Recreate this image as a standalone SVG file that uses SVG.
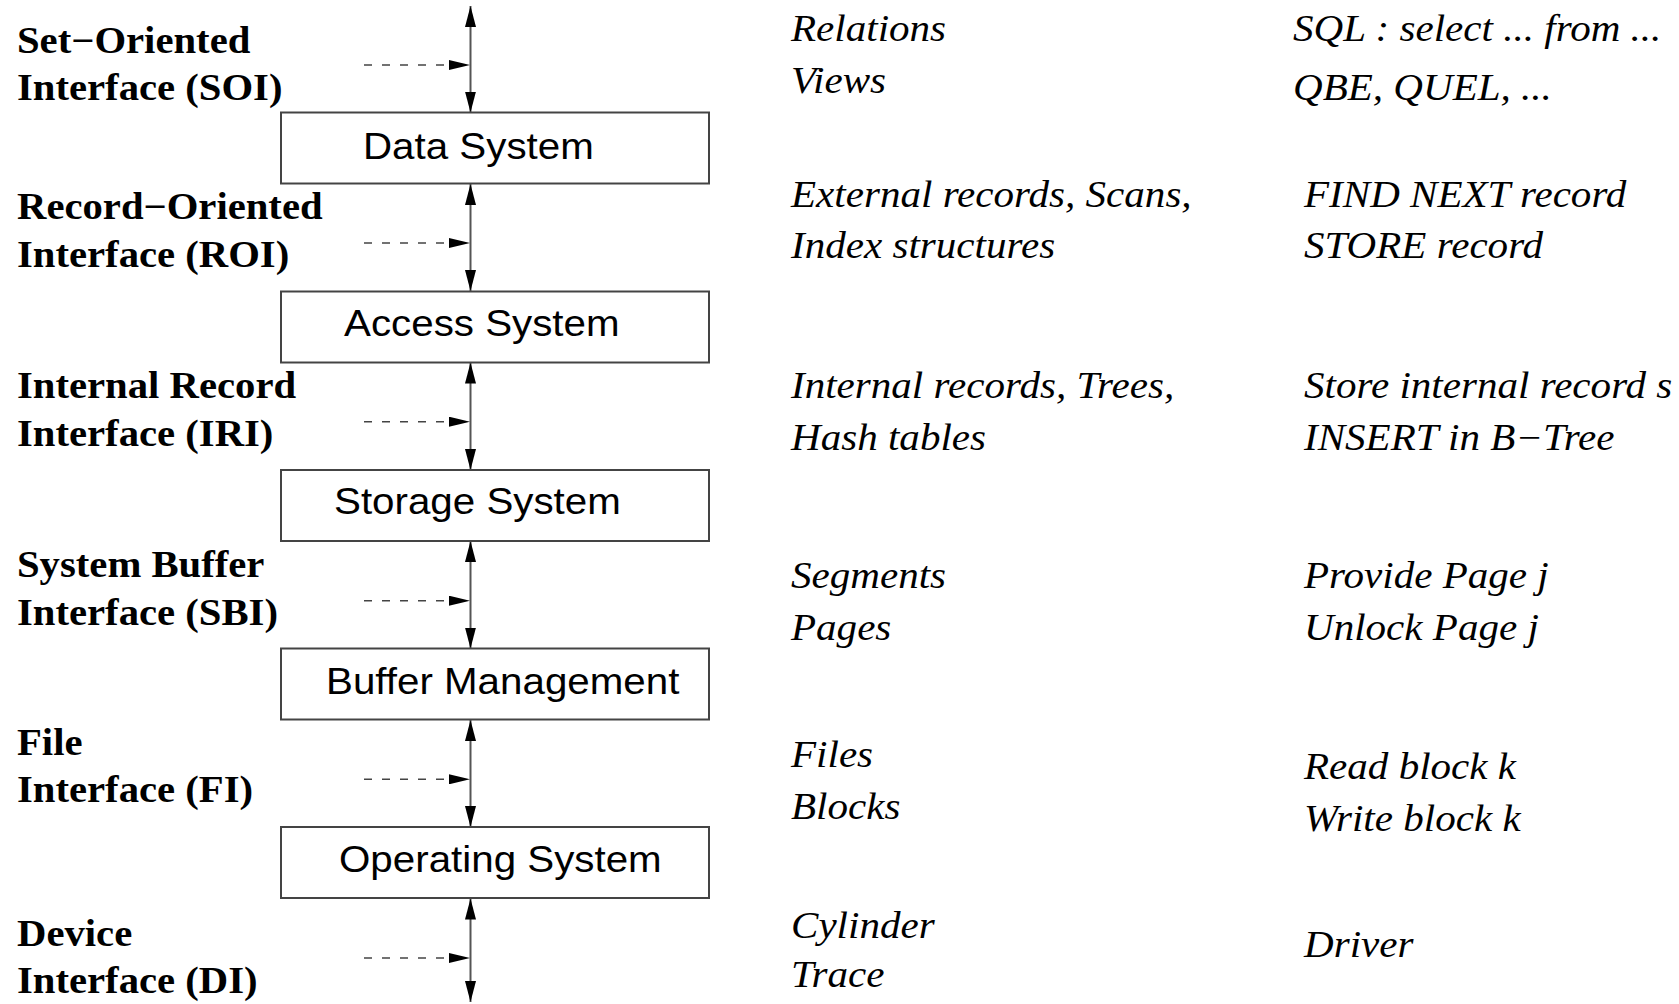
<svg xmlns="http://www.w3.org/2000/svg" width="1679" height="1004" viewBox="0 0 1679 1004">
  <style>
    .lbl { font-family: "Liberation Serif", "Times New Roman", serif; font-weight: bold; font-size: 37px; fill: #000; }
    .it { font-family: "Liberation Serif", "Times New Roman", serif; font-style: italic; font-size: 37px; fill: #000; }
    .box rect { fill: #fff; stroke: #444; stroke-width: 2; }
    .box text { font-family: "Liberation Sans", Arial, sans-serif; font-size: 37px; fill: #000; }
    .bus { fill: none; stroke: #555; stroke-width: 2; marker-start: url(#head); marker-end: url(#head); }
    .tap { fill: none; stroke: #444; stroke-width: 1.6; stroke-dasharray: 8 10; marker-end: url(#tapHead); }
  </style>
  <defs>
    <marker id="head" markerUnits="userSpaceOnUse" viewBox="0 0 21 11" refX="21" refY="5.5" markerWidth="21" markerHeight="11" orient="auto-start-reverse">
      <path d="M0,0 L21,5.5 L0,11 Z" fill="#000"/>
    </marker>
    <marker id="tapHead" markerUnits="userSpaceOnUse" viewBox="0 0 21 10" refX="21" refY="5" markerWidth="21" markerHeight="10" orient="auto">
      <path d="M0,0 L21,5 L0,10 Z" fill="#000"/>
    </marker>
  </defs>

  <!-- vertical interface lines and dashed interface taps -->
  <g id="connectors">
    <path class="bus" d="M470.5,6 L470.5,112.5"/>
    <path class="bus" d="M470.5,184 L470.5,291"/>
    <path class="bus" d="M470.5,362.5 L470.5,470"/>
    <path class="bus" d="M470.5,541 L470.5,648.5"/>
    <path class="bus" d="M470.5,720 L470.5,827"/>
    <path class="bus" d="M470.5,898.5 L470.5,1002"/>

    <path class="tap" d="M364,65 L470,65"/>
    <path class="tap" d="M364,243 L470,243"/>
    <path class="tap" d="M364,421.7 L470,421.7"/>
    <path class="tap" d="M364,600.7 L470,600.7"/>
    <path class="tap" d="M364,779.3 L470,779.3"/>
    <path class="tap" d="M364,958 L470,958"/>
  </g>

  <!-- system layers -->
  <g id="data-system" class="box">
    <rect x="281" y="112.5" width="428" height="71"/>
    <text transform="translate(363 158.5) scale(1.09 1)">Data System</text>
  </g>
  <g id="access-system" class="box">
    <rect x="281" y="291.5" width="428" height="71"/>
    <text transform="translate(344 335.7) scale(1.09 1)">Access System</text>
  </g>
  <g id="storage-system" class="box">
    <rect x="281" y="470" width="428" height="71"/>
    <text transform="translate(334 514) scale(1.09 1)">Storage System</text>
  </g>
  <g id="buffer-management" class="box">
    <rect x="281" y="648.5" width="428" height="71"/>
    <text transform="translate(326 694) scale(1.09 1)">Buffer Management</text>
  </g>
  <g id="operating-system" class="box">
    <rect x="281" y="827" width="428" height="71"/>
    <text transform="translate(339 872.3) scale(1.09 1)">Operating System</text>
  </g>

  <!-- interface names -->
  <g id="soi">
    <text class="lbl" transform="translate(17 53.3) scale(1.1 1)">Set−Oriented</text>
    <text class="lbl" transform="translate(17 100) scale(1.1 1)">Interface (SOI)</text>
  </g>
  <g id="roi">
    <text class="lbl" transform="translate(17 219) scale(1.1 1)">Record−Oriented</text>
    <text class="lbl" transform="translate(17 266.7) scale(1.1 1)">Interface (ROI)</text>
  </g>
  <g id="iri">
    <text class="lbl" transform="translate(17 397.7) scale(1.1 1)">Internal Record</text>
    <text class="lbl" transform="translate(17 445.7) scale(1.1 1)">Interface (IRI)</text>
  </g>
  <g id="sbi">
    <text class="lbl" transform="translate(17 577) scale(1.1 1)">System Buffer</text>
    <text class="lbl" transform="translate(17 624.5) scale(1.1 1)">Interface (SBI)</text>
  </g>
  <g id="fi">
    <text class="lbl" transform="translate(17 755) scale(1.1 1)">File</text>
    <text class="lbl" transform="translate(17 802.3) scale(1.1 1)">Interface (FI)</text>
  </g>
  <g id="di">
    <text class="lbl" transform="translate(17 945.5) scale(1.1 1)">Device</text>
    <text class="lbl" transform="translate(17 993.3) scale(1.1 1)">Interface (DI)</text>
  </g>

  <!-- objects handled at each interface -->
  <g id="objects">
    <text class="it" transform="translate(791 40.7) scale(1.11 1)">Relations</text>
    <text class="it" transform="translate(791 92.7) scale(1.11 1)">Views</text>
    <text class="it" transform="translate(791 206.7) scale(1.11 1)">External records, Scans,</text>
    <text class="it" transform="translate(791 258.3) scale(1.11 1)">Index structures</text>
    <text class="it" transform="translate(791 398.3) scale(1.11 1)">Internal records, Trees,</text>
    <text class="it" transform="translate(791 450) scale(1.11 1)">Hash tables</text>
    <text class="it" transform="translate(791 588) scale(1.11 1)">Segments</text>
    <text class="it" transform="translate(791 640) scale(1.11 1)">Pages</text>
    <text class="it" transform="translate(791 766.7) scale(1.11 1)">Files</text>
    <text class="it" transform="translate(791 819) scale(1.11 1)">Blocks</text>
    <text class="it" transform="translate(791 938) scale(1.11 1)">Cylinder</text>
    <text class="it" transform="translate(791 986.7) scale(1.11 1)">Trace</text>
  </g>

  <!-- sample operations at each interface -->
  <g id="operations">
    <text class="it" transform="translate(1293 40.7) scale(1.11 1)">SQL : select ... from ...</text>
    <text class="it" transform="translate(1293 99.5) scale(1.11 1)">QBE, QUEL, ...</text>
    <text class="it" transform="translate(1304 206.7) scale(1.11 1)">FIND NEXT record</text>
    <text class="it" transform="translate(1304 258.3) scale(1.11 1)">STORE record</text>
    <text class="it" transform="translate(1304 398.3) scale(1.11 1)">Store internal record s</text>
    <text class="it" transform="translate(1304 450) scale(1.11 1)">INSERT in B−Tree</text>
    <text class="it" transform="translate(1304 588) scale(1.11 1)">Provide Page j</text>
    <text class="it" transform="translate(1304 640) scale(1.11 1)">Unlock Page j</text>
    <text class="it" transform="translate(1304 779.3) scale(1.11 1)">Read block k</text>
    <text class="it" transform="translate(1304 830.7) scale(1.11 1)">Write block k</text>
    <text class="it" transform="translate(1304 957.3) scale(1.11 1)">Driver</text>
  </g>
</svg>
